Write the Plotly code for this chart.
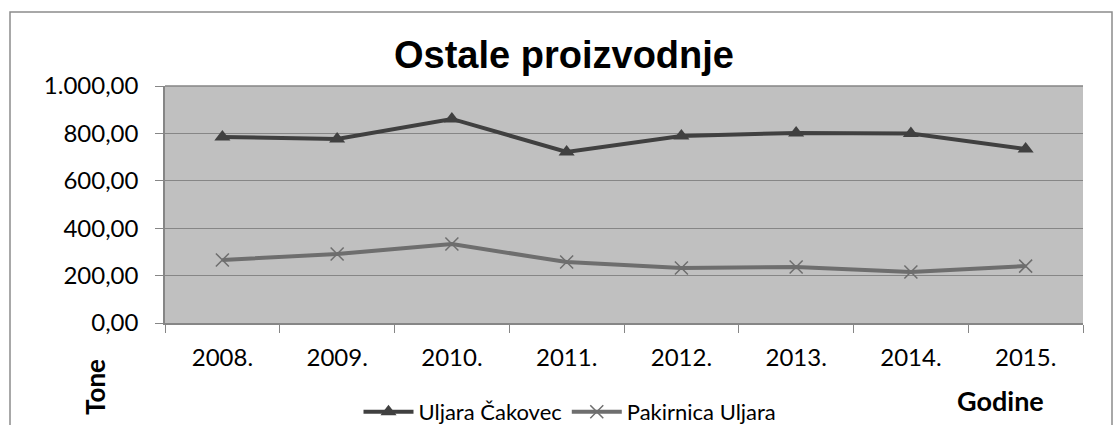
import plotly.graph_objects as go

years = ["2008.", "2009.", "2010.", "2011.", "2012.", "2013.", "2014.", "2015."]
uljara_cakovec = [785, 776, 861, 722, 789, 802, 800, 734]
pakirnica_uljara = [266, 291, 333, 257, 232, 236, 215, 240]
y_ticks = [0, 200, 400, 600, 800, 1000]

W, H = 1117, 425
L, R, T, B = 165, 34, 86, 102
pw, ph = W - L - R, H - T - B

def px(x):
    return (x - L) / pw

def py(y):
    return (H - B - y) / ph

font_body = "Lato, 'Open Sans', sans-serif"

fig = go.Figure()
fig.add_trace(go.Scatter(
    x=years, y=uljara_cakovec, name="Uljara Čakovec", mode="lines+markers",
    line=dict(color="#404040", width=4),
    marker=dict(symbol="triangle-up", size=14, color="#404040"),
))
fig.add_trace(go.Scatter(
    x=years, y=pakirnica_uljara, name="Pakirnica Uljara", mode="lines+markers",
    line=dict(color="#6e6e6e", width=4),
    marker=dict(symbol="x-thin", size=13, color="#6e6e6e",
                line=dict(color="#6e6e6e", width=1.5)),
))

fig.update_layout(
    width=W, height=H,
    margin=dict(l=L, r=R, t=T, b=B, pad=0, autoexpand=False),
    paper_bgcolor="white",
    plot_bgcolor="#c0c0c0",
    separators=",.",
    font=dict(family=font_body, size=24, color="black"),
    showlegend=True,
    legend=dict(orientation="h", x=px(570), xanchor="center",
                yref="container", y=(H - 412) / H, yanchor="middle",
                font=dict(size=22, family=font_body), bgcolor="rgba(0,0,0,0)",
                itemwidth=50, traceorder="normal"),
    xaxis=dict(
        type="category", tickson="boundaries", ticks="outside", ticklen=8,
        tickcolor="#868686", showline=True, linecolor="#868686", linewidth=1.5,
        showgrid=False, tickfont=dict(size=24), ticklabelstandoff=12,
        range=[-0.5, 7.5],
    ),
    yaxis=dict(
        range=[0, 1000], tickvals=y_ticks, tickformat=",.2f",
        ticks="outside", ticklen=8, tickcolor="#868686",
        showline=True, linecolor="#868686", linewidth=1.5,
        showgrid=True, gridcolor="#868686", gridwidth=1,
        zeroline=False, tickfont=dict(size=24), ticklabelstandoff=12,
    ),
    shapes=[
        dict(type="rect", xref="paper", yref="paper",
             x0=px(10), x1=px(1112), y0=py(440), y1=py(12),
             line=dict(color="#8c8c8c", width=1.5), fillcolor="rgba(0,0,0,0)", layer="below"),
        dict(type="line", xref="paper", yref="paper",
             x0=0, x1=1, y0=1, y1=1, line=dict(color="#868686", width=1.5)),
    ],
    annotations=[
        dict(text="<b>Ostale proizvodnje</b>", xref="paper", yref="paper",
             x=px(564), y=py(55), showarrow=False, xanchor="center", yanchor="middle",
             font=dict(family="'Liberation Sans', Arial, sans-serif", size=38, color="black")),
        dict(text="<b>Tone</b>", xref="paper", yref="paper",
             x=px(95), y=py(387), showarrow=False, textangle=-90,
             xanchor="center", yanchor="middle", font=dict(size=26)),
        dict(text="<b>Godine</b>", xref="paper", yref="paper",
             x=px(1000), y=py(400), showarrow=False,
             xanchor="center", yanchor="middle", font=dict(size=27)),
    ],
)

fig.write_html("out.html", config={"displayModeBar": False},
               post_script="document.body.style.margin='0px';")
